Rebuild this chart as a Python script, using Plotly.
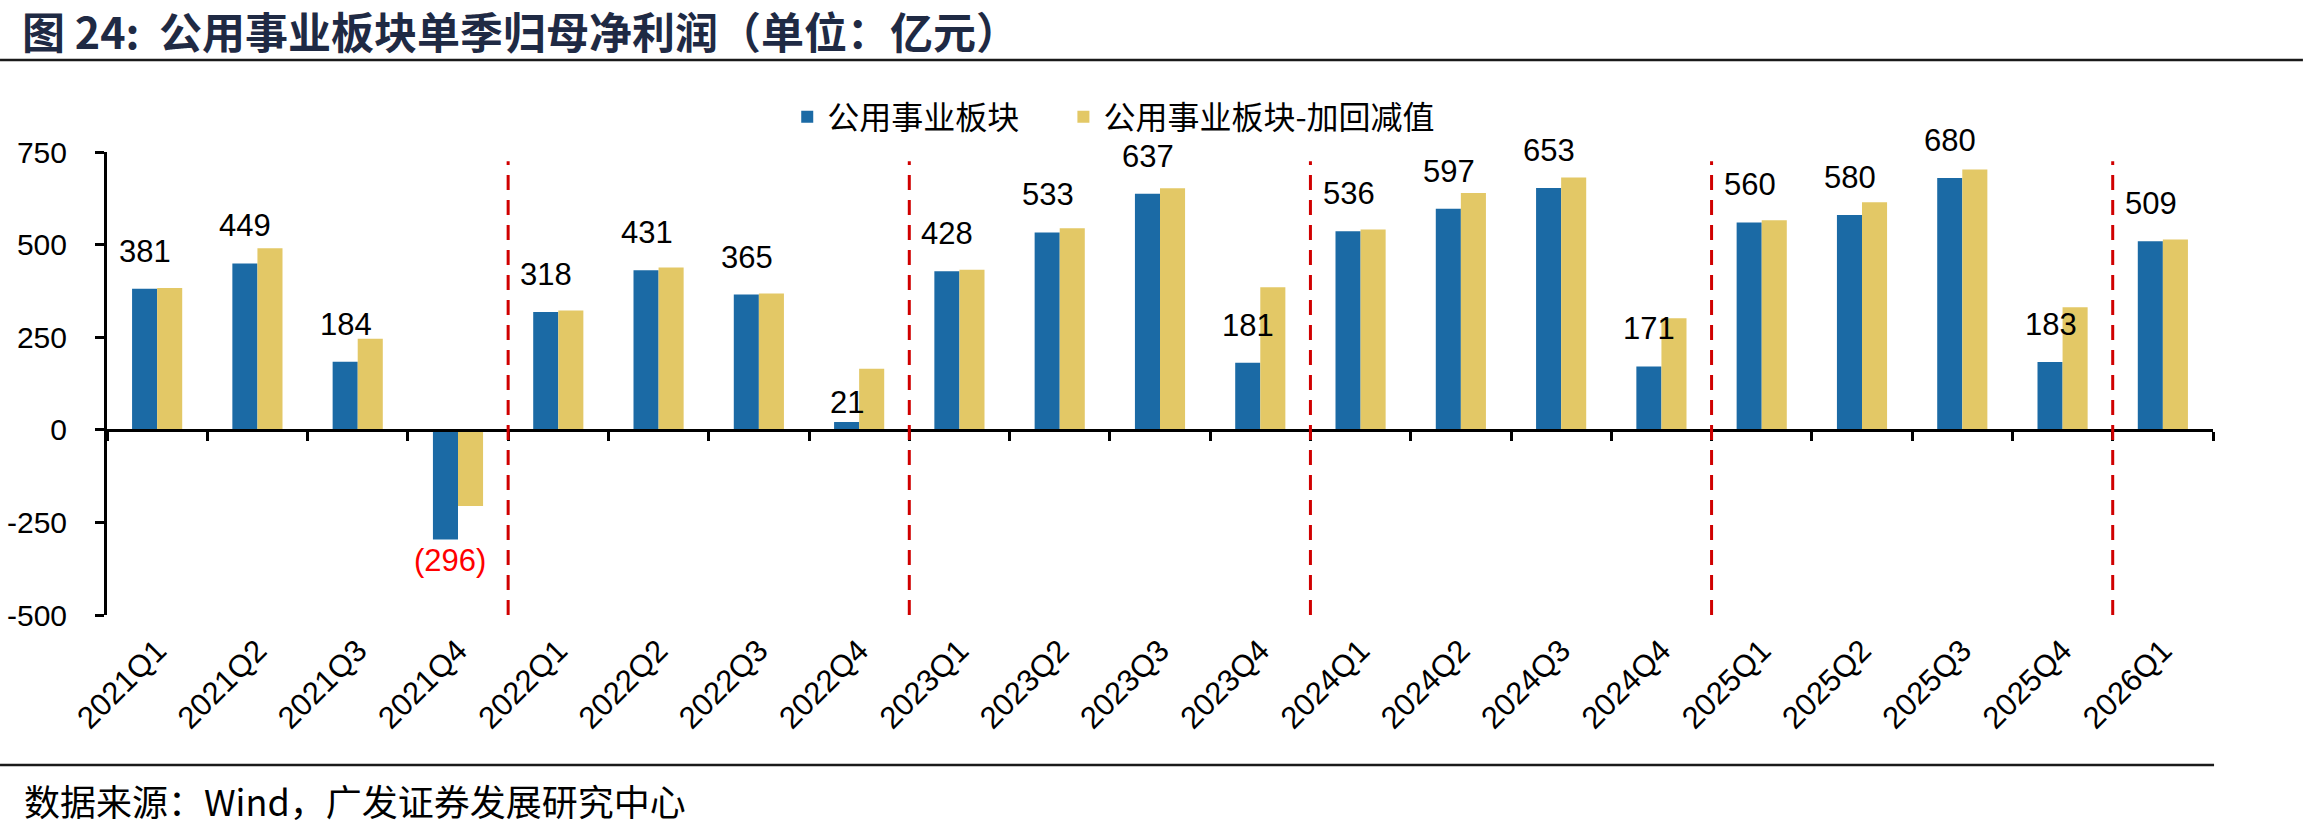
import plotly.graph_objects as go

categories = ["2021Q1", "2021Q2", "2021Q3", "2021Q4", "2022Q1", "2022Q2", "2022Q3", "2022Q4",
              "2023Q1", "2023Q2", "2023Q3", "2023Q4", "2024Q1", "2024Q2", "2024Q3", "2024Q4",
              "2025Q1", "2025Q2", "2025Q3", "2025Q4", "2026Q1"]
utility = [381, 449, 184, -296, 318, 431, 365, 21, 428, 533, 637, 181, 536, 597, 653, 171,
           560, 580, 680, 183, 509]
utility_adj = [383, 490, 246, -206, 322, 438, 368, 165, 432, 544, 652, 385, 541, 639, 681, 301,
               566, 614, 703, 331, 514]
year_breaks = [3.5, 7.5, 11.5, 15.5, 19.5]
y_ticks = [750, 500, 250, 0, -250, -500]
y_ticktext = ["750", "500", "250", "0", "-250", "-500"]

BLUE = "#1B6AA5"
GOLD = "#E3C866"
NUM_FONT = "Liberation Sans, Arial, sans-serif"
CJK_FONT = "Noto Sans CJK SC, sans-serif"

fig = go.Figure()
fig.add_trace(go.Bar(x=categories, y=utility, name="公用事业板块\u3000\u00a0", marker_color=BLUE,
                     marker_line_width=0, hoverinfo="skip"))
fig.add_trace(go.Bar(x=categories, y=utility_adj, name="公用事业板块-加回减值", marker_color=GOLD,
                     marker_line_width=0, hoverinfo="skip"))

annotations = []
for i, (c, v) in enumerate(zip(categories, utility)):
    if v < 0:
        annotations.append(dict(x=c, y=v, xref="x", yref="y", text="(%d)" % abs(v),
                                showarrow=False, yanchor="top", xanchor="center", xshift=-8,
                                yshift=-2, font=dict(family=NUM_FONT, size=31, color="#FF0000")))
    else:
        ys = 18 if v > 60 else 0
        annotations.append(dict(x=c, y=v, xref="x", yref="y", text=str(v),
                                showarrow=False, yanchor="bottom", xanchor="center", xshift=-12,
                                yshift=ys, font=dict(family=NUM_FONT, size=31, color="#000000")))

annotations.append(dict(x=-0.0404, y=-0.40, xref="paper", yref="paper", xanchor="left",
                        yanchor="middle", showarrow=False,
                        text="数据来源：Wind，广发证券发展研究中心",
                        font=dict(family=CJK_FONT, size=36, color="#000000")))

shapes = []
for b in year_breaks:
    shapes.append(dict(type="line", xref="x2", yref="y", x0=b, x1=b, y0=-500, y1=725,
                       line=dict(color="#D00000", width=3, dash="15px,10px")))
shapes.append(dict(type="line", xref="paper", yref="paper", x0=-0.0508, x1=1.0427,
                   y0=1.1987, y1=1.1987, line=dict(color="#1a1a1a", width=2.5)))
shapes.append(dict(type="line", xref="paper", yref="paper", x0=-0.0508, x1=1.0005,
                   y0=-0.324, y1=-0.324, line=dict(color="#1a1a1a", width=2.5)))

fig.update_layout(
    width=2303, height=833,
    margin=dict(l=107, r=90, t=152, b=218, autoexpand=False),
    paper_bgcolor="white", plot_bgcolor="white",
    barmode="group", bargap=0.5, bargroupgap=0,
    hovermode=False,
    title=dict(text="<b>图 24:  公用事业板块单季归母净利润（单位：亿元）</b>",
               x=22 / 2303, xanchor="left", xref="container",
               y=1 - 34 / 833, yanchor="middle", yref="container",
               font=dict(family=CJK_FONT, size=43, color="#1F2A44")),
    legend=dict(orientation="h", x=0.323, xanchor="left", y=1.0756, yanchor="middle",
                font=dict(family=CJK_FONT, size=32, color="#000000"),
                bgcolor="rgba(0,0,0,0)"),
    xaxis=dict(type="category", categoryorder="array", categoryarray=categories,
               range=[-0.5, 20.5], showline=False, showgrid=False, zeroline=False,
               ticks="", tickangle=-45, ticklabelstandoff=10,
               tickfont=dict(family=NUM_FONT, size=31, color="#000000")),
    xaxis2=dict(overlaying="x", anchor="free", position=0.4, side="bottom",
                range=[-0.5, 20.5], tick0=-0.5, dtick=1, showticklabels=False,
                showline=True, linecolor="#000000", linewidth=3,
                ticks="outside", ticklen=9, tickwidth=3, tickcolor="#000000",
                showgrid=False, zeroline=False),
    yaxis=dict(range=[-500, 750], tickvals=y_ticks, ticktext=y_ticktext,
               showline=True, linecolor="#000000", linewidth=3,
               ticks="outside", ticklen=9, tickwidth=3, tickcolor="#000000",
               showgrid=False, zeroline=False, ticklabelstandoff=22,
               tickfont=dict(family=NUM_FONT, size=30, color="#000000")),
    annotations=annotations,
    shapes=shapes,
)

fig.write_html("out.html")
